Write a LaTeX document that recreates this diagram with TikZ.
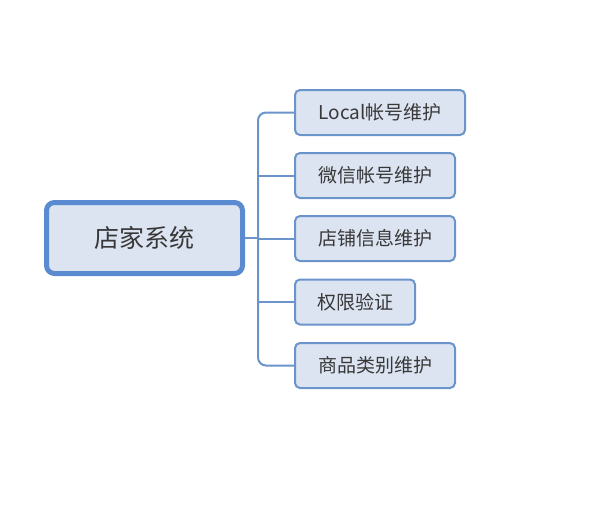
\documentclass[tikz,border=0pt]{standalone}
\usepackage{fontspec}
\setmainfont{Noto Sans CJK SC}
\usepackage{tikz}
\usetikzlibrary{positioning}

\definecolor{boxfill}{HTML}{DCE4F2}
\definecolor{boxline}{HTML}{6B94CB}
\definecolor{rootline}{HTML}{5A8AD0}
\definecolor{txt}{HTML}{383838}

\begin{document}
\begin{tikzpicture}[x=1pt,y=-1pt,
  root/.style={draw=rootline,fill=boxfill,line width=5pt,rounded corners=8pt,minimum width=196pt,minimum height=71pt,text=txt,font=\fontsize{25}{28}\selectfont},
  leaf/.style={draw=boxline,fill=boxfill,line width=2pt,rounded corners=5pt,minimum height=45pt,text=txt,font=\fontsize{19}{22}\selectfont},
  link/.style={draw=boxline,line width=2pt}]
\useasboundingbox (0,0) rectangle (600,517);
\node[root] (shop) at (144.5,238) {店家系统};
\node[leaf,minimum width=170pt] (local) at (380,112.5) {Local帐号维护};
\node[leaf,minimum width=160pt] (wechat) at (375,175.5) {微信帐号维护};
\node[leaf,minimum width=160pt] (store) at (375,238.5) {店铺信息维护};
\node[leaf,minimum width=120pt] (auth) at (355,302) {权限验证};
\node[leaf,minimum width=160pt] (goods) at (375,365.5) {商品类别维护};
\coordinate (trunk) at (258,238);
\draw[link] (shop.east) -- (trunk);
\draw[link,rounded corners=8pt] (trunk) |- (local.west);
\draw[link,rounded corners=8pt] (trunk) |- (goods.west);
\draw[link] (trunk |- wechat.west) -- (wechat.west);
\draw[link] (trunk |- store.west) -- (store.west);
\draw[link] (trunk |- auth.west) -- (auth.west);
\end{tikzpicture}
\end{document}
